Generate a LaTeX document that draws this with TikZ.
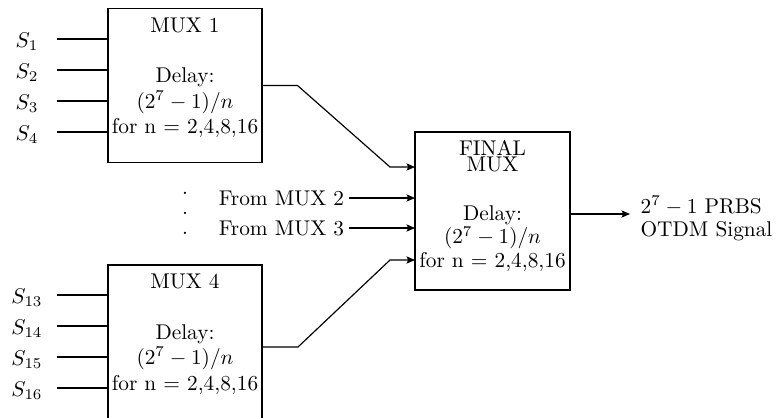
\documentclass[tikz,border=0pt]{standalone}
\usetikzlibrary{arrows.meta, positioning, calc}

\tikzset{
  muxbox/.style={draw, rectangle, inner sep=0pt, outer sep=0pt,
    minimum width=72.2pt, minimum height=72.2pt},
  muxtext/.style={anchor=north, align=center, inner sep=0pt},
  feed/.style={-{Stealth[length=4pt, width=3.4pt, inset=0.8pt]}},
  fromlabel/.style={anchor=east, inner sep=2pt},
}

\begin{document}
\begin{tikzpicture}[x=0.469pt, y=-0.469pt, line width=0.55pt]
    \clip (0,0) rectangle (778,417);
    % Boxes
    \node[muxbox] (mux1) at (185,85.5) {};
    \node[muxbox] (mux4) at (185,342) {};
    \node[muxbox, minimum width=72.7pt, minimum height=74.1pt] (final) at (492.5,211) {};
    % Box texts
    \node[muxtext] (mux1txt) at (185,17.2)
      {MUX 1\\[11.5pt]Delay:\\$(2^7-1)/n$\\for n = 2,4,8,16};
    \node[muxtext] (mux4txt) at (185,273.8)
      {MUX 4\\[11.5pt]Delay:\\$(2^7-1)/n$\\for n = 2,4,8,16};
    \node[muxtext] (finaltxt) at (492.5,139.5)
      {FINAL\\[-4.6pt]MUX\\[11.3pt]Delay:\\[-1.2pt]$(2^7-1)/n$\\[-0.7pt]for n = 2,4,8,16};
    % Inputs of MUX 1
    \foreach \k in {0,...,3} {
      \pgfmathsetmacro\yin{39+31*\k}
      \pgfmathtruncatemacro\j{\k+1}
      \coordinate (in\j) at (57,\yin);
      \node (s\j) at (27,\yin+3) {$S_{\j}$};
      \draw (in\j) -- (in\j -| mux1.west);
    }
    % Inputs of MUX 4
    \foreach \k in {0,...,3} {
      \pgfmathsetmacro\yin{295+31*\k}
      \pgfmathtruncatemacro\j{\k+13}
      \coordinate (in\j) at (57,\yin);
      \node (s\j) at (27,\yin+3) {$S_{\j}$};
      \draw (in\j) -- (in\j -| mux4.west);
    }
    % MUX 1 and MUX 4 into the final MUX
    \coordinate (bend1) at (297.5,85.5);
    \coordinate (bend2) at (390,167);
    \draw[feed] (mux1.east) -- (bend1) -- (bend2) -- (bend2 -| final.west);
    \coordinate (mux4out) at (262,347);
    \coordinate (bend3) at (298,347);
    \coordinate (bend4) at (390,260);
    \draw[feed] (mux4out) -- (bend3) -- (bend4) -- (bend4 -| final.west);
    % MUX 2 and MUX 3
    \node[fromlabel] (from2) at (349,198) {From MUX 2};
    \node[fromlabel] (from3) at (349,228) {From MUX 3};
    \draw[feed] (from2.east) -- (from2.east -| final.west);
    \draw[feed] (from3.east) -- (from3.east -| final.west);
    \node[align=center, inner sep=0pt] (dots) at (185,213) {.\\[-2.6pt].\\[-2.6pt].};
    % Output
    \coordinate (sigend) at (630,214);
    \draw[feed] (final.east |- sigend) -- (sigend);
    \node[anchor=north west, align=left, inner sep=0pt] (otdm) at (640,195.6)
      {$2^7-1$ PRBS\\[-1.4pt]OTDM Signal};
\end{tikzpicture}
\end{document}
